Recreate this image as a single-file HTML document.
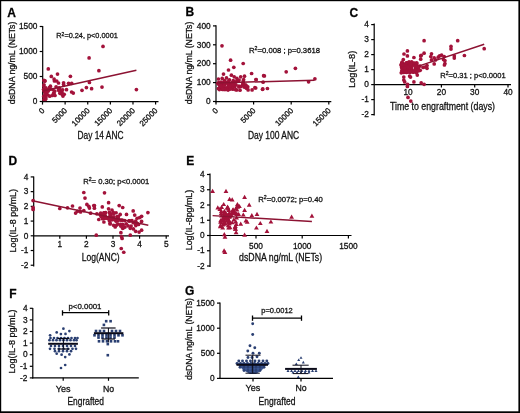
<!DOCTYPE html>
<html><head><meta charset="utf-8"><style>
html,body{margin:0;padding:0;background:#fff;}
body{width:520px;height:413px;overflow:hidden;}
svg{display:block;font-family:"Liberation Sans", sans-serif;will-change:transform;}
text{stroke:#111;stroke-width:0.28px;}
</style></head><body>
<svg width="520" height="413" viewBox="0 0 520 413">
<rect x="0" y="0" width="520" height="413" fill="#fff"/>
<text x="7.20" y="16.80" font-size="12" text-anchor="start" fill="#000" font-weight="bold">A</text>
<line x1="42.70" y1="26.00" x2="42.70" y2="102.20" stroke="#000" stroke-width="1.2"/>
<line x1="42.10" y1="101.60" x2="158.50" y2="101.60" stroke="#000" stroke-width="1.2"/>
<line x1="39.70" y1="101.50" x2="42.70" y2="101.50" stroke="#000" stroke-width="1.2"/>
<text x="37.40" y="104.20" font-size="8.3" text-anchor="end" fill="#111">0</text>
<line x1="39.70" y1="76.50" x2="42.70" y2="76.50" stroke="#000" stroke-width="1.2"/>
<text x="37.40" y="79.20" font-size="8.3" text-anchor="end" fill="#111">500</text>
<line x1="39.70" y1="51.50" x2="42.70" y2="51.50" stroke="#000" stroke-width="1.2"/>
<text x="37.40" y="54.20" font-size="8.3" text-anchor="end" fill="#111">1000</text>
<line x1="39.70" y1="26.50" x2="42.70" y2="26.50" stroke="#000" stroke-width="1.2"/>
<text x="37.40" y="29.20" font-size="8.3" text-anchor="end" fill="#111">1500</text>
<line x1="42.50" y1="101.60" x2="42.50" y2="104.60" stroke="#000" stroke-width="1.2"/>
<text x="45.10" y="111.10" font-size="7.9" text-anchor="end" fill="#111" transform="rotate(-45 45.10 111.10)">0</text>
<line x1="65.12" y1="101.60" x2="65.12" y2="104.60" stroke="#000" stroke-width="1.2"/>
<text x="67.72" y="111.10" font-size="7.9" text-anchor="end" fill="#111" transform="rotate(-45 67.72 111.10)">5000</text>
<line x1="87.74" y1="101.60" x2="87.74" y2="104.60" stroke="#000" stroke-width="1.2"/>
<text x="90.34" y="111.10" font-size="7.9" text-anchor="end" fill="#111" transform="rotate(-45 90.34 111.10)">10000</text>
<line x1="110.36" y1="101.60" x2="110.36" y2="104.60" stroke="#000" stroke-width="1.2"/>
<text x="112.96" y="111.10" font-size="7.9" text-anchor="end" fill="#111" transform="rotate(-45 112.96 111.10)">15000</text>
<line x1="132.98" y1="101.60" x2="132.98" y2="104.60" stroke="#000" stroke-width="1.2"/>
<text x="135.58" y="111.10" font-size="7.9" text-anchor="end" fill="#111" transform="rotate(-45 135.58 111.10)">20000</text>
<line x1="155.60" y1="101.60" x2="155.60" y2="104.60" stroke="#000" stroke-width="1.2"/>
<text x="158.20" y="111.10" font-size="7.9" text-anchor="end" fill="#111" transform="rotate(-45 158.20 111.10)">25000</text>
<text x="100.50" y="138.60" font-size="10.3" text-anchor="middle" fill="#111" textLength="46" lengthAdjust="spacingAndGlyphs">Day 14 ANC</text>
<text x="14.60" y="62.90" font-size="9.2" text-anchor="middle" fill="#111" textLength="82.5" lengthAdjust="spacingAndGlyphs" transform="rotate(-90 14.60 62.90)">dsDNA ng/mL (NETs)</text>
<text x="56.3" y="38.4" font-size="7.6" fill="#111" textLength="61.5" lengthAdjust="spacingAndGlyphs">R<tspan dy="-2.9" font-size="5.2">2</tspan><tspan dy="2.9">=0.24, p&lt;0.0001</tspan></text>
<circle cx="103.00" cy="46.40" r="1.85" fill="#a3123a"/>
<circle cx="89.10" cy="57.90" r="1.85" fill="#a3123a"/>
<circle cx="98.90" cy="70.70" r="1.85" fill="#a3123a"/>
<circle cx="102.00" cy="87.10" r="1.85" fill="#a3123a"/>
<circle cx="136.40" cy="89.60" r="1.85" fill="#a3123a"/>
<circle cx="48.30" cy="68.90" r="1.85" fill="#a3123a"/>
<circle cx="57.50" cy="74.10" r="1.85" fill="#a3123a"/>
<circle cx="51.30" cy="76.40" r="1.85" fill="#a3123a"/>
<circle cx="70.40" cy="76.30" r="1.85" fill="#a3123a"/>
<circle cx="54.10" cy="79.10" r="1.85" fill="#a3123a"/>
<circle cx="54.40" cy="81.00" r="1.85" fill="#a3123a"/>
<circle cx="56.70" cy="81.00" r="1.85" fill="#a3123a"/>
<circle cx="58.50" cy="83.00" r="1.85" fill="#a3123a"/>
<circle cx="63.60" cy="82.80" r="1.85" fill="#a3123a"/>
<circle cx="63.60" cy="84.50" r="1.85" fill="#a3123a"/>
<circle cx="68.60" cy="83.30" r="1.85" fill="#a3123a"/>
<circle cx="71.70" cy="83.30" r="1.85" fill="#a3123a"/>
<circle cx="50.40" cy="86.20" r="1.85" fill="#a3123a"/>
<circle cx="56.10" cy="86.80" r="1.85" fill="#a3123a"/>
<circle cx="89.40" cy="82.50" r="1.85" fill="#a3123a"/>
<circle cx="86.40" cy="87.60" r="1.85" fill="#a3123a"/>
<circle cx="91.60" cy="88.70" r="1.85" fill="#a3123a"/>
<circle cx="82.00" cy="90.30" r="1.85" fill="#a3123a"/>
<circle cx="71.60" cy="92.00" r="1.85" fill="#a3123a"/>
<circle cx="73.30" cy="93.10" r="1.85" fill="#a3123a"/>
<circle cx="66.50" cy="89.70" r="1.85" fill="#a3123a"/>
<circle cx="55.00" cy="95.50" r="1.85" fill="#a3123a"/>
<circle cx="61.90" cy="90.80" r="1.85" fill="#a3123a"/>
<circle cx="64.20" cy="94.30" r="1.85" fill="#a3123a"/>
<circle cx="44.00" cy="99.50" r="1.85" fill="#a3123a"/>
<circle cx="44.50" cy="91.20" r="1.85" fill="#a3123a"/>
<circle cx="45.45" cy="89.31" r="1.85" fill="#a3123a"/>
<circle cx="44.62" cy="91.75" r="1.85" fill="#a3123a"/>
<circle cx="43.97" cy="90.24" r="1.85" fill="#a3123a"/>
<circle cx="44.86" cy="95.86" r="1.85" fill="#a3123a"/>
<circle cx="43.79" cy="86.07" r="1.85" fill="#a3123a"/>
<circle cx="43.78" cy="96.19" r="1.85" fill="#a3123a"/>
<circle cx="44.99" cy="80.84" r="1.85" fill="#a3123a"/>
<circle cx="45.56" cy="99.30" r="1.85" fill="#a3123a"/>
<circle cx="44.91" cy="92.31" r="1.85" fill="#a3123a"/>
<circle cx="43.91" cy="80.30" r="1.85" fill="#a3123a"/>
<circle cx="44.66" cy="81.19" r="1.85" fill="#a3123a"/>
<circle cx="43.98" cy="84.84" r="1.85" fill="#a3123a"/>
<circle cx="43.66" cy="89.28" r="1.85" fill="#a3123a"/>
<circle cx="52.37" cy="95.51" r="1.85" fill="#a3123a"/>
<circle cx="53.86" cy="93.24" r="1.85" fill="#a3123a"/>
<circle cx="53.50" cy="93.51" r="1.85" fill="#a3123a"/>
<circle cx="52.69" cy="89.55" r="1.85" fill="#a3123a"/>
<circle cx="62.96" cy="96.06" r="1.85" fill="#a3123a"/>
<circle cx="59.96" cy="93.34" r="1.85" fill="#a3123a"/>
<circle cx="49.99" cy="89.31" r="1.85" fill="#a3123a"/>
<circle cx="49.49" cy="87.69" r="1.85" fill="#a3123a"/>
<circle cx="58.56" cy="90.25" r="1.85" fill="#a3123a"/>
<circle cx="60.09" cy="89.95" r="1.85" fill="#a3123a"/>
<circle cx="62.20" cy="94.58" r="1.85" fill="#a3123a"/>
<circle cx="44.01" cy="89.70" r="1.85" fill="#a3123a"/>
<circle cx="61.30" cy="90.71" r="1.85" fill="#a3123a"/>
<circle cx="62.63" cy="89.81" r="1.85" fill="#a3123a"/>
<circle cx="45.39" cy="93.97" r="1.85" fill="#a3123a"/>
<circle cx="58.79" cy="88.85" r="1.85" fill="#a3123a"/>
<circle cx="45.66" cy="90.83" r="1.85" fill="#a3123a"/>
<circle cx="62.32" cy="93.63" r="1.85" fill="#a3123a"/>
<circle cx="46.24" cy="89.86" r="1.85" fill="#a3123a"/>
<circle cx="45.92" cy="87.94" r="1.85" fill="#a3123a"/>
<circle cx="59.14" cy="87.85" r="1.85" fill="#a3123a"/>
<circle cx="54.63" cy="91.14" r="1.85" fill="#a3123a"/>
<circle cx="47.62" cy="94.82" r="1.85" fill="#a3123a"/>
<circle cx="46.49" cy="94.01" r="1.85" fill="#a3123a"/>
<circle cx="46.21" cy="91.70" r="1.85" fill="#a3123a"/>
<circle cx="48.04" cy="89.93" r="1.85" fill="#a3123a"/>
<circle cx="62.45" cy="94.09" r="1.85" fill="#a3123a"/>
<circle cx="49.78" cy="96.21" r="1.85" fill="#a3123a"/>
<circle cx="48.00" cy="91.24" r="1.85" fill="#a3123a"/>
<circle cx="60.23" cy="92.62" r="1.85" fill="#a3123a"/>
<circle cx="45.91" cy="97.70" r="1.85" fill="#a3123a"/>
<circle cx="48.05" cy="89.81" r="1.85" fill="#a3123a"/>
<circle cx="58.68" cy="89.49" r="1.85" fill="#a3123a"/>
<circle cx="49.63" cy="87.71" r="1.85" fill="#a3123a"/>
<line x1="42.70" y1="91.10" x2="136.40" y2="70.30" stroke="#8c1232" stroke-width="1.5"/>
<text x="185.60" y="16.40" font-size="12" text-anchor="start" fill="#000" font-weight="bold">B</text>
<line x1="216.00" y1="25.30" x2="216.00" y2="102.20" stroke="#000" stroke-width="1.2"/>
<line x1="215.40" y1="101.60" x2="331.30" y2="101.60" stroke="#000" stroke-width="1.2"/>
<line x1="213.00" y1="101.50" x2="216.00" y2="101.50" stroke="#000" stroke-width="1.2"/>
<text x="210.70" y="104.20" font-size="8.3" text-anchor="end" fill="#111">0</text>
<line x1="213.00" y1="82.60" x2="216.00" y2="82.60" stroke="#000" stroke-width="1.2"/>
<text x="210.70" y="85.30" font-size="8.3" text-anchor="end" fill="#111">100</text>
<line x1="213.00" y1="63.70" x2="216.00" y2="63.70" stroke="#000" stroke-width="1.2"/>
<text x="210.70" y="66.40" font-size="8.3" text-anchor="end" fill="#111">200</text>
<line x1="213.00" y1="44.80" x2="216.00" y2="44.80" stroke="#000" stroke-width="1.2"/>
<text x="210.70" y="47.50" font-size="8.3" text-anchor="end" fill="#111">300</text>
<line x1="213.00" y1="25.90" x2="216.00" y2="25.90" stroke="#000" stroke-width="1.2"/>
<text x="210.70" y="28.60" font-size="8.3" text-anchor="end" fill="#111">400</text>
<line x1="216.00" y1="101.60" x2="216.00" y2="104.60" stroke="#000" stroke-width="1.2"/>
<text x="218.60" y="111.10" font-size="7.9" text-anchor="end" fill="#111" transform="rotate(-45 218.60 111.10)">0</text>
<line x1="253.60" y1="101.60" x2="253.60" y2="104.60" stroke="#000" stroke-width="1.2"/>
<text x="256.20" y="111.10" font-size="7.9" text-anchor="end" fill="#111" transform="rotate(-45 256.20 111.10)">5000</text>
<line x1="291.20" y1="101.60" x2="291.20" y2="104.60" stroke="#000" stroke-width="1.2"/>
<text x="293.80" y="111.10" font-size="7.9" text-anchor="end" fill="#111" transform="rotate(-45 293.80 111.10)">10000</text>
<line x1="328.80" y1="101.60" x2="328.80" y2="104.60" stroke="#000" stroke-width="1.2"/>
<text x="331.40" y="111.10" font-size="7.9" text-anchor="end" fill="#111" transform="rotate(-45 331.40 111.10)">15000</text>
<text x="273.60" y="139.10" font-size="10.3" text-anchor="middle" fill="#111" textLength="51.3" lengthAdjust="spacingAndGlyphs">Day 100 ANC</text>
<text x="191.90" y="62.90" font-size="9.2" text-anchor="middle" fill="#111" textLength="82.5" lengthAdjust="spacingAndGlyphs" transform="rotate(-90 191.90 62.90)">dsDNA ng/mL (NETs)</text>
<text x="249" y="52.7" font-size="7.6" fill="#111" textLength="71" lengthAdjust="spacingAndGlyphs">R<tspan dy="-2.9" font-size="5.2">2</tspan><tspan dy="2.9">=0.008 ; p=0.3618</tspan></text>
<circle cx="222.00" cy="45.80" r="1.85" fill="#a3123a"/>
<circle cx="230.60" cy="60.20" r="1.85" fill="#a3123a"/>
<circle cx="243.20" cy="63.50" r="1.85" fill="#a3123a"/>
<circle cx="233.80" cy="67.30" r="1.85" fill="#a3123a"/>
<circle cx="228.50" cy="70.00" r="1.85" fill="#a3123a"/>
<circle cx="223.50" cy="74.10" r="1.85" fill="#a3123a"/>
<circle cx="251.60" cy="73.50" r="1.85" fill="#a3123a"/>
<circle cx="263.60" cy="75.70" r="1.85" fill="#a3123a"/>
<circle cx="231.40" cy="75.20" r="1.85" fill="#a3123a"/>
<circle cx="234.20" cy="76.80" r="1.85" fill="#a3123a"/>
<circle cx="226.50" cy="77.90" r="1.85" fill="#a3123a"/>
<circle cx="222.20" cy="78.40" r="1.85" fill="#a3123a"/>
<circle cx="218.40" cy="79.00" r="1.85" fill="#a3123a"/>
<circle cx="236.90" cy="78.40" r="1.85" fill="#a3123a"/>
<circle cx="240.70" cy="76.80" r="1.85" fill="#a3123a"/>
<circle cx="244.50" cy="76.20" r="1.85" fill="#a3123a"/>
<circle cx="256.00" cy="79.50" r="1.85" fill="#a3123a"/>
<circle cx="252.10" cy="89.90" r="1.85" fill="#a3123a"/>
<circle cx="254.90" cy="87.70" r="1.85" fill="#a3123a"/>
<circle cx="262.50" cy="89.30" r="1.85" fill="#a3123a"/>
<circle cx="295.40" cy="68.30" r="1.85" fill="#a3123a"/>
<circle cx="286.20" cy="71.80" r="1.85" fill="#a3123a"/>
<circle cx="264.40" cy="75.90" r="1.85" fill="#a3123a"/>
<circle cx="256.10" cy="79.50" r="1.85" fill="#a3123a"/>
<circle cx="263.10" cy="82.20" r="1.85" fill="#a3123a"/>
<circle cx="255.70" cy="88.00" r="1.85" fill="#a3123a"/>
<circle cx="262.80" cy="88.90" r="1.85" fill="#a3123a"/>
<circle cx="267.40" cy="88.50" r="1.85" fill="#a3123a"/>
<circle cx="308.60" cy="81.80" r="1.85" fill="#a3123a"/>
<circle cx="314.90" cy="78.80" r="1.85" fill="#a3123a"/>
<circle cx="232.21" cy="86.73" r="1.85" fill="#a3123a"/>
<circle cx="238.16" cy="81.07" r="1.85" fill="#a3123a"/>
<circle cx="217.84" cy="83.62" r="1.85" fill="#a3123a"/>
<circle cx="226.00" cy="88.41" r="1.85" fill="#a3123a"/>
<circle cx="238.91" cy="86.12" r="1.85" fill="#a3123a"/>
<circle cx="234.80" cy="86.77" r="1.85" fill="#a3123a"/>
<circle cx="222.00" cy="84.34" r="1.85" fill="#a3123a"/>
<circle cx="222.53" cy="89.47" r="1.85" fill="#a3123a"/>
<circle cx="219.32" cy="88.51" r="1.85" fill="#a3123a"/>
<circle cx="219.81" cy="87.06" r="1.85" fill="#a3123a"/>
<circle cx="227.95" cy="83.95" r="1.85" fill="#a3123a"/>
<circle cx="243.61" cy="79.70" r="1.85" fill="#a3123a"/>
<circle cx="219.38" cy="89.57" r="1.85" fill="#a3123a"/>
<circle cx="233.28" cy="80.50" r="1.85" fill="#a3123a"/>
<circle cx="248.10" cy="89.91" r="1.85" fill="#a3123a"/>
<circle cx="220.99" cy="84.16" r="1.85" fill="#a3123a"/>
<circle cx="221.69" cy="82.94" r="1.85" fill="#a3123a"/>
<circle cx="236.77" cy="81.30" r="1.85" fill="#a3123a"/>
<circle cx="239.10" cy="80.06" r="1.85" fill="#a3123a"/>
<circle cx="222.81" cy="88.47" r="1.85" fill="#a3123a"/>
<circle cx="229.92" cy="84.11" r="1.85" fill="#a3123a"/>
<circle cx="235.98" cy="84.74" r="1.85" fill="#a3123a"/>
<circle cx="229.42" cy="79.84" r="1.85" fill="#a3123a"/>
<circle cx="240.02" cy="90.14" r="1.85" fill="#a3123a"/>
<circle cx="247.77" cy="86.80" r="1.85" fill="#a3123a"/>
<circle cx="228.55" cy="83.49" r="1.85" fill="#a3123a"/>
<circle cx="238.89" cy="86.91" r="1.85" fill="#a3123a"/>
<circle cx="221.03" cy="82.08" r="1.85" fill="#a3123a"/>
<circle cx="228.76" cy="85.12" r="1.85" fill="#a3123a"/>
<circle cx="242.61" cy="85.00" r="1.85" fill="#a3123a"/>
<circle cx="218.37" cy="88.55" r="1.85" fill="#a3123a"/>
<circle cx="230.83" cy="85.21" r="1.85" fill="#a3123a"/>
<circle cx="224.39" cy="84.20" r="1.85" fill="#a3123a"/>
<circle cx="229.54" cy="87.99" r="1.85" fill="#a3123a"/>
<circle cx="220.68" cy="85.55" r="1.85" fill="#a3123a"/>
<circle cx="223.02" cy="87.15" r="1.85" fill="#a3123a"/>
<circle cx="218.64" cy="82.54" r="1.85" fill="#a3123a"/>
<circle cx="228.17" cy="86.51" r="1.85" fill="#a3123a"/>
<circle cx="219.11" cy="84.55" r="1.85" fill="#a3123a"/>
<circle cx="223.97" cy="82.60" r="1.85" fill="#a3123a"/>
<circle cx="228.36" cy="89.61" r="1.85" fill="#a3123a"/>
<circle cx="228.44" cy="89.58" r="1.85" fill="#a3123a"/>
<circle cx="223.26" cy="89.28" r="1.85" fill="#a3123a"/>
<circle cx="226.51" cy="82.30" r="1.85" fill="#a3123a"/>
<circle cx="232.85" cy="89.16" r="1.85" fill="#a3123a"/>
<circle cx="220.61" cy="83.05" r="1.85" fill="#a3123a"/>
<circle cx="233.22" cy="83.75" r="1.85" fill="#a3123a"/>
<circle cx="224.49" cy="80.58" r="1.85" fill="#a3123a"/>
<circle cx="221.16" cy="86.38" r="1.85" fill="#a3123a"/>
<circle cx="236.73" cy="89.99" r="1.85" fill="#a3123a"/>
<circle cx="228.81" cy="80.73" r="1.85" fill="#a3123a"/>
<circle cx="225.82" cy="87.98" r="1.85" fill="#a3123a"/>
<circle cx="234.23" cy="86.57" r="1.85" fill="#a3123a"/>
<circle cx="224.29" cy="85.51" r="1.85" fill="#a3123a"/>
<circle cx="228.38" cy="86.46" r="1.85" fill="#a3123a"/>
<circle cx="224.83" cy="89.49" r="1.85" fill="#a3123a"/>
<circle cx="235.26" cy="82.04" r="1.85" fill="#a3123a"/>
<circle cx="225.31" cy="88.80" r="1.85" fill="#a3123a"/>
<circle cx="225.09" cy="89.47" r="1.85" fill="#a3123a"/>
<circle cx="229.00" cy="87.11" r="1.85" fill="#a3123a"/>
<circle cx="232.13" cy="82.53" r="1.85" fill="#a3123a"/>
<circle cx="225.20" cy="82.92" r="1.85" fill="#a3123a"/>
<circle cx="231.77" cy="87.09" r="1.85" fill="#a3123a"/>
<circle cx="222.67" cy="88.92" r="1.85" fill="#a3123a"/>
<circle cx="227.44" cy="82.79" r="1.85" fill="#a3123a"/>
<circle cx="227.68" cy="89.81" r="1.85" fill="#a3123a"/>
<circle cx="229.74" cy="86.44" r="1.85" fill="#a3123a"/>
<circle cx="235.68" cy="89.64" r="1.85" fill="#a3123a"/>
<circle cx="233.05" cy="84.47" r="1.85" fill="#a3123a"/>
<circle cx="230.21" cy="89.06" r="1.85" fill="#a3123a"/>
<circle cx="245.74" cy="85.22" r="1.85" fill="#a3123a"/>
<circle cx="243.08" cy="83.32" r="1.85" fill="#a3123a"/>
<circle cx="245.42" cy="85.07" r="1.85" fill="#a3123a"/>
<circle cx="241.10" cy="86.39" r="1.85" fill="#a3123a"/>
<circle cx="246.42" cy="87.18" r="1.85" fill="#a3123a"/>
<circle cx="246.38" cy="88.19" r="1.85" fill="#a3123a"/>
<circle cx="244.21" cy="87.10" r="1.85" fill="#a3123a"/>
<circle cx="243.28" cy="80.88" r="1.85" fill="#a3123a"/>
<circle cx="243.12" cy="82.81" r="1.85" fill="#a3123a"/>
<circle cx="246.60" cy="86.20" r="1.85" fill="#a3123a"/>
<line x1="216.00" y1="83.00" x2="314.50" y2="80.20" stroke="#8c1232" stroke-width="1.5"/>
<text x="349.40" y="16.80" font-size="12" text-anchor="start" fill="#000" font-weight="bold">C</text>
<line x1="374.20" y1="23.50" x2="374.20" y2="115.50" stroke="#000" stroke-width="1.2"/>
<line x1="374.20" y1="84.60" x2="511.00" y2="84.60" stroke="#000" stroke-width="1.2"/>
<line x1="371.20" y1="24.60" x2="374.20" y2="24.60" stroke="#000" stroke-width="1.2"/>
<text x="368.90" y="27.30" font-size="8.3" text-anchor="end" fill="#111">4</text>
<line x1="371.20" y1="39.60" x2="374.20" y2="39.60" stroke="#000" stroke-width="1.2"/>
<text x="368.90" y="42.30" font-size="8.3" text-anchor="end" fill="#111">3</text>
<line x1="371.20" y1="54.60" x2="374.20" y2="54.60" stroke="#000" stroke-width="1.2"/>
<text x="368.90" y="57.30" font-size="8.3" text-anchor="end" fill="#111">2</text>
<line x1="371.20" y1="69.60" x2="374.20" y2="69.60" stroke="#000" stroke-width="1.2"/>
<text x="368.90" y="72.30" font-size="8.3" text-anchor="end" fill="#111">1</text>
<line x1="371.20" y1="84.60" x2="374.20" y2="84.60" stroke="#000" stroke-width="1.2"/>
<text x="368.90" y="87.30" font-size="8.3" text-anchor="end" fill="#111">0</text>
<line x1="371.20" y1="99.60" x2="374.20" y2="99.60" stroke="#000" stroke-width="1.2"/>
<text x="368.90" y="102.30" font-size="8.3" text-anchor="end" fill="#111">-1</text>
<line x1="371.20" y1="114.60" x2="374.20" y2="114.60" stroke="#000" stroke-width="1.2"/>
<text x="368.90" y="117.30" font-size="8.3" text-anchor="end" fill="#111">-2</text>
<line x1="408.10" y1="84.60" x2="408.10" y2="87.60" stroke="#000" stroke-width="1.2"/>
<text x="408.10" y="95.20" font-size="8.3" text-anchor="middle" fill="#111">10</text>
<line x1="441.40" y1="84.60" x2="441.40" y2="87.60" stroke="#000" stroke-width="1.2"/>
<text x="441.40" y="95.20" font-size="8.3" text-anchor="middle" fill="#111">20</text>
<line x1="474.70" y1="84.60" x2="474.70" y2="87.60" stroke="#000" stroke-width="1.2"/>
<text x="474.70" y="95.20" font-size="8.3" text-anchor="middle" fill="#111">30</text>
<line x1="508.00" y1="84.60" x2="508.00" y2="87.60" stroke="#000" stroke-width="1.2"/>
<text x="508.00" y="95.20" font-size="8.3" text-anchor="middle" fill="#111">40</text>
<text x="442.50" y="109.80" font-size="10.3" text-anchor="middle" fill="#111" textLength="105" lengthAdjust="spacingAndGlyphs">Time to engraftment (days)</text>
<text x="355.30" y="69.30" font-size="9.2" text-anchor="middle" fill="#111" textLength="37" lengthAdjust="spacingAndGlyphs" transform="rotate(-90 355.30 69.30)">Log(IL-8)</text>
<text x="440.2" y="77.8" font-size="7.6" fill="#111" textLength="65.5" lengthAdjust="spacingAndGlyphs">R<tspan dy="-2.9" font-size="5.2">2</tspan><tspan dy="2.9">=0.31 ; p&lt;0.0001</tspan></text>
<circle cx="424.10" cy="40.70" r="1.85" fill="#a3123a"/>
<circle cx="457.70" cy="40.70" r="1.85" fill="#a3123a"/>
<circle cx="451.00" cy="46.40" r="1.85" fill="#a3123a"/>
<circle cx="451.00" cy="49.10" r="1.85" fill="#a3123a"/>
<circle cx="484.20" cy="48.70" r="1.85" fill="#a3123a"/>
<circle cx="464.40" cy="55.50" r="1.85" fill="#a3123a"/>
<circle cx="454.30" cy="55.90" r="1.85" fill="#a3123a"/>
<circle cx="454.30" cy="58.10" r="1.85" fill="#a3123a"/>
<circle cx="444.20" cy="56.50" r="1.85" fill="#a3123a"/>
<circle cx="444.90" cy="60.60" r="1.85" fill="#a3123a"/>
<circle cx="444.90" cy="63.50" r="1.85" fill="#a3123a"/>
<circle cx="441.60" cy="55.20" r="1.85" fill="#a3123a"/>
<circle cx="438.20" cy="57.20" r="1.85" fill="#a3123a"/>
<circle cx="435.50" cy="59.90" r="1.85" fill="#a3123a"/>
<circle cx="431.50" cy="53.80" r="1.85" fill="#a3123a"/>
<circle cx="430.80" cy="56.50" r="1.85" fill="#a3123a"/>
<circle cx="434.20" cy="57.90" r="1.85" fill="#a3123a"/>
<circle cx="431.50" cy="59.90" r="1.85" fill="#a3123a"/>
<circle cx="434.20" cy="63.90" r="1.85" fill="#a3123a"/>
<circle cx="424.10" cy="53.20" r="1.85" fill="#a3123a"/>
<circle cx="420.70" cy="55.90" r="1.85" fill="#a3123a"/>
<circle cx="420.70" cy="59.20" r="1.85" fill="#a3123a"/>
<circle cx="407.40" cy="50.90" r="1.85" fill="#a3123a"/>
<circle cx="404.00" cy="54.00" r="1.85" fill="#a3123a"/>
<circle cx="407.40" cy="55.90" r="1.85" fill="#a3123a"/>
<circle cx="413.90" cy="57.50" r="1.85" fill="#a3123a"/>
<circle cx="421.20" cy="55.30" r="1.85" fill="#a3123a"/>
<circle cx="403.30" cy="59.60" r="1.85" fill="#a3123a"/>
<circle cx="439.60" cy="55.80" r="1.85" fill="#a3123a"/>
<circle cx="443.50" cy="59.60" r="1.85" fill="#a3123a"/>
<circle cx="444.40" cy="65.00" r="1.85" fill="#a3123a"/>
<circle cx="427.00" cy="68.30" r="1.85" fill="#a3123a"/>
<circle cx="423.10" cy="67.40" r="1.85" fill="#a3123a"/>
<circle cx="420.20" cy="70.30" r="1.85" fill="#a3123a"/>
<circle cx="417.30" cy="75.10" r="1.85" fill="#a3123a"/>
<circle cx="409.60" cy="76.10" r="1.85" fill="#a3123a"/>
<circle cx="410.50" cy="77.10" r="1.85" fill="#a3123a"/>
<circle cx="403.80" cy="77.10" r="1.85" fill="#a3123a"/>
<circle cx="403.80" cy="80.00" r="1.85" fill="#a3123a"/>
<circle cx="404.70" cy="81.90" r="1.85" fill="#a3123a"/>
<circle cx="407.60" cy="84.30" r="1.85" fill="#a3123a"/>
<circle cx="413.90" cy="81.90" r="1.85" fill="#a3123a"/>
<circle cx="421.20" cy="82.90" r="1.85" fill="#a3123a"/>
<circle cx="424.10" cy="84.30" r="1.85" fill="#a3123a"/>
<circle cx="408.00" cy="97.40" r="1.85" fill="#a3123a"/>
<circle cx="410.80" cy="101.10" r="1.85" fill="#a3123a"/>
<circle cx="407.40" cy="86.40" r="1.85" fill="#a3123a"/>
<circle cx="420.00" cy="66.00" r="1.85" fill="#a3123a"/>
<circle cx="425.00" cy="67.00" r="1.85" fill="#a3123a"/>
<circle cx="427.00" cy="65.50" r="1.85" fill="#a3123a"/>
<circle cx="405.73" cy="69.34" r="1.85" fill="#a3123a"/>
<circle cx="413.17" cy="71.14" r="1.85" fill="#a3123a"/>
<circle cx="404.45" cy="64.34" r="1.85" fill="#a3123a"/>
<circle cx="403.78" cy="64.28" r="1.85" fill="#a3123a"/>
<circle cx="414.05" cy="63.23" r="1.85" fill="#a3123a"/>
<circle cx="410.50" cy="64.15" r="1.85" fill="#a3123a"/>
<circle cx="406.36" cy="66.55" r="1.85" fill="#a3123a"/>
<circle cx="415.86" cy="68.49" r="1.85" fill="#a3123a"/>
<circle cx="401.45" cy="64.83" r="1.85" fill="#a3123a"/>
<circle cx="403.77" cy="71.38" r="1.85" fill="#a3123a"/>
<circle cx="415.37" cy="70.67" r="1.85" fill="#a3123a"/>
<circle cx="415.66" cy="69.99" r="1.85" fill="#a3123a"/>
<circle cx="417.81" cy="70.53" r="1.85" fill="#a3123a"/>
<circle cx="405.69" cy="71.15" r="1.85" fill="#a3123a"/>
<circle cx="409.72" cy="70.11" r="1.85" fill="#a3123a"/>
<circle cx="411.07" cy="66.53" r="1.85" fill="#a3123a"/>
<circle cx="407.57" cy="66.53" r="1.85" fill="#a3123a"/>
<circle cx="406.69" cy="63.09" r="1.85" fill="#a3123a"/>
<circle cx="415.54" cy="70.58" r="1.85" fill="#a3123a"/>
<circle cx="418.45" cy="69.40" r="1.85" fill="#a3123a"/>
<circle cx="410.90" cy="70.03" r="1.85" fill="#a3123a"/>
<circle cx="403.56" cy="69.25" r="1.85" fill="#a3123a"/>
<circle cx="408.96" cy="63.74" r="1.85" fill="#a3123a"/>
<circle cx="404.75" cy="67.55" r="1.85" fill="#a3123a"/>
<circle cx="405.63" cy="66.85" r="1.85" fill="#a3123a"/>
<circle cx="411.80" cy="66.15" r="1.85" fill="#a3123a"/>
<circle cx="403.49" cy="67.20" r="1.85" fill="#a3123a"/>
<circle cx="405.32" cy="64.39" r="1.85" fill="#a3123a"/>
<circle cx="404.60" cy="65.83" r="1.85" fill="#a3123a"/>
<circle cx="402.48" cy="68.96" r="1.85" fill="#a3123a"/>
<circle cx="417.89" cy="66.09" r="1.85" fill="#a3123a"/>
<circle cx="413.78" cy="72.06" r="1.85" fill="#a3123a"/>
<circle cx="401.96" cy="63.36" r="1.85" fill="#a3123a"/>
<circle cx="415.31" cy="71.02" r="1.85" fill="#a3123a"/>
<circle cx="412.38" cy="63.56" r="1.85" fill="#a3123a"/>
<circle cx="408.44" cy="71.35" r="1.85" fill="#a3123a"/>
<circle cx="416.71" cy="70.63" r="1.85" fill="#a3123a"/>
<circle cx="404.75" cy="71.19" r="1.85" fill="#a3123a"/>
<circle cx="407.76" cy="69.68" r="1.85" fill="#a3123a"/>
<circle cx="403.60" cy="72.48" r="1.85" fill="#a3123a"/>
<circle cx="411.76" cy="69.75" r="1.85" fill="#a3123a"/>
<circle cx="404.91" cy="68.59" r="1.85" fill="#a3123a"/>
<circle cx="411.37" cy="68.30" r="1.85" fill="#a3123a"/>
<circle cx="407.49" cy="69.80" r="1.85" fill="#a3123a"/>
<circle cx="407.17" cy="65.05" r="1.85" fill="#a3123a"/>
<circle cx="404.08" cy="69.32" r="1.85" fill="#a3123a"/>
<circle cx="403.16" cy="64.28" r="1.85" fill="#a3123a"/>
<circle cx="402.41" cy="68.88" r="1.85" fill="#a3123a"/>
<circle cx="410.93" cy="67.78" r="1.85" fill="#a3123a"/>
<circle cx="401.88" cy="66.64" r="1.85" fill="#a3123a"/>
<circle cx="407.20" cy="62.82" r="1.85" fill="#a3123a"/>
<circle cx="401.25" cy="72.78" r="1.85" fill="#a3123a"/>
<circle cx="403.33" cy="65.12" r="1.85" fill="#a3123a"/>
<circle cx="405.91" cy="68.37" r="1.85" fill="#a3123a"/>
<circle cx="402.55" cy="66.97" r="1.85" fill="#a3123a"/>
<circle cx="407.62" cy="70.98" r="1.85" fill="#a3123a"/>
<circle cx="401.30" cy="65.48" r="1.85" fill="#a3123a"/>
<circle cx="409.89" cy="72.47" r="1.85" fill="#a3123a"/>
<circle cx="410.24" cy="67.02" r="1.85" fill="#a3123a"/>
<circle cx="412.92" cy="65.06" r="1.85" fill="#a3123a"/>
<circle cx="401.76" cy="67.32" r="1.85" fill="#a3123a"/>
<circle cx="417.13" cy="69.92" r="1.85" fill="#a3123a"/>
<circle cx="405.72" cy="69.32" r="1.85" fill="#a3123a"/>
<circle cx="416.06" cy="64.64" r="1.85" fill="#a3123a"/>
<circle cx="411.49" cy="65.71" r="1.85" fill="#a3123a"/>
<circle cx="405.47" cy="64.96" r="1.85" fill="#a3123a"/>
<circle cx="404.77" cy="65.66" r="1.85" fill="#a3123a"/>
<circle cx="401.87" cy="66.17" r="1.85" fill="#a3123a"/>
<circle cx="402.72" cy="70.14" r="1.85" fill="#a3123a"/>
<circle cx="411.70" cy="61.85" r="1.85" fill="#a3123a"/>
<circle cx="414.74" cy="63.89" r="1.85" fill="#a3123a"/>
<circle cx="409.61" cy="67.90" r="1.85" fill="#a3123a"/>
<circle cx="407.03" cy="64.98" r="1.85" fill="#a3123a"/>
<circle cx="408.81" cy="63.31" r="1.85" fill="#a3123a"/>
<circle cx="416.31" cy="63.03" r="1.85" fill="#a3123a"/>
<circle cx="415.61" cy="64.20" r="1.85" fill="#a3123a"/>
<circle cx="406.51" cy="66.07" r="1.85" fill="#a3123a"/>
<circle cx="401.78" cy="63.21" r="1.85" fill="#a3123a"/>
<circle cx="407.52" cy="66.66" r="1.85" fill="#a3123a"/>
<circle cx="416.54" cy="72.69" r="1.85" fill="#a3123a"/>
<circle cx="401.96" cy="67.69" r="1.85" fill="#a3123a"/>
<circle cx="403.46" cy="70.64" r="1.85" fill="#a3123a"/>
<circle cx="406.85" cy="71.62" r="1.85" fill="#a3123a"/>
<circle cx="410.74" cy="63.18" r="1.85" fill="#a3123a"/>
<circle cx="401.29" cy="64.53" r="1.85" fill="#a3123a"/>
<circle cx="416.39" cy="63.45" r="1.85" fill="#a3123a"/>
<circle cx="409.58" cy="65.89" r="1.85" fill="#a3123a"/>
<circle cx="407.24" cy="70.62" r="1.85" fill="#a3123a"/>
<circle cx="404.94" cy="69.70" r="1.85" fill="#a3123a"/>
<circle cx="412.87" cy="72.09" r="1.85" fill="#a3123a"/>
<circle cx="410.30" cy="71.92" r="1.85" fill="#a3123a"/>
<circle cx="408.91" cy="68.11" r="1.85" fill="#a3123a"/>
<circle cx="412.06" cy="71.04" r="1.85" fill="#a3123a"/>
<circle cx="416.91" cy="63.07" r="1.85" fill="#a3123a"/>
<circle cx="403.60" cy="67.67" r="1.85" fill="#a3123a"/>
<circle cx="415.42" cy="67.67" r="1.85" fill="#a3123a"/>
<circle cx="406.44" cy="72.38" r="1.85" fill="#a3123a"/>
<circle cx="406.41" cy="62.76" r="1.85" fill="#a3123a"/>
<circle cx="402.11" cy="62.13" r="1.85" fill="#a3123a"/>
<circle cx="413.92" cy="62.98" r="1.85" fill="#a3123a"/>
<circle cx="413.73" cy="71.33" r="1.85" fill="#a3123a"/>
<circle cx="418.69" cy="70.70" r="1.85" fill="#a3123a"/>
<circle cx="408.63" cy="68.64" r="1.85" fill="#a3123a"/>
<circle cx="415.78" cy="69.68" r="1.85" fill="#a3123a"/>
<circle cx="406.28" cy="70.18" r="1.85" fill="#a3123a"/>
<circle cx="403.11" cy="65.19" r="1.85" fill="#a3123a"/>
<circle cx="418.63" cy="66.98" r="1.85" fill="#a3123a"/>
<circle cx="405.89" cy="70.43" r="1.85" fill="#a3123a"/>
<circle cx="409.08" cy="61.84" r="1.85" fill="#a3123a"/>
<circle cx="401.71" cy="64.65" r="1.85" fill="#a3123a"/>
<circle cx="407.01" cy="72.11" r="1.85" fill="#a3123a"/>
<circle cx="405.53" cy="71.15" r="1.85" fill="#a3123a"/>
<circle cx="416.14" cy="66.38" r="1.85" fill="#a3123a"/>
<circle cx="418.58" cy="70.18" r="1.85" fill="#a3123a"/>
<circle cx="409.67" cy="64.68" r="1.85" fill="#a3123a"/>
<circle cx="409.27" cy="71.72" r="1.85" fill="#a3123a"/>
<circle cx="410.59" cy="63.93" r="1.85" fill="#a3123a"/>
<circle cx="407.77" cy="67.04" r="1.85" fill="#a3123a"/>
<circle cx="404.54" cy="68.10" r="1.85" fill="#a3123a"/>
<circle cx="401.80" cy="70.83" r="1.85" fill="#a3123a"/>
<line x1="419.30" y1="65.90" x2="484.20" y2="44.20" stroke="#8c1232" stroke-width="1.5"/>
<text x="8.40" y="164.50" font-size="12" text-anchor="start" fill="#000" font-weight="bold">D</text>
<line x1="33.70" y1="176.40" x2="33.70" y2="266.50" stroke="#000" stroke-width="1.2"/>
<line x1="33.70" y1="235.80" x2="169.00" y2="235.80" stroke="#000" stroke-width="1.2"/>
<line x1="30.70" y1="176.92" x2="33.70" y2="176.92" stroke="#000" stroke-width="1.2"/>
<text x="28.40" y="179.62" font-size="8.3" text-anchor="end" fill="#111">4</text>
<line x1="30.70" y1="191.64" x2="33.70" y2="191.64" stroke="#000" stroke-width="1.2"/>
<text x="28.40" y="194.34" font-size="8.3" text-anchor="end" fill="#111">3</text>
<line x1="30.70" y1="206.36" x2="33.70" y2="206.36" stroke="#000" stroke-width="1.2"/>
<text x="28.40" y="209.06" font-size="8.3" text-anchor="end" fill="#111">2</text>
<line x1="30.70" y1="221.08" x2="33.70" y2="221.08" stroke="#000" stroke-width="1.2"/>
<text x="28.40" y="223.78" font-size="8.3" text-anchor="end" fill="#111">1</text>
<line x1="30.70" y1="235.80" x2="33.70" y2="235.80" stroke="#000" stroke-width="1.2"/>
<text x="28.40" y="238.50" font-size="8.3" text-anchor="end" fill="#111">0</text>
<line x1="30.70" y1="250.52" x2="33.70" y2="250.52" stroke="#000" stroke-width="1.2"/>
<text x="28.40" y="253.22" font-size="8.3" text-anchor="end" fill="#111">-1</text>
<line x1="30.70" y1="265.24" x2="33.70" y2="265.24" stroke="#000" stroke-width="1.2"/>
<text x="28.40" y="267.94" font-size="8.3" text-anchor="end" fill="#111">-2</text>
<line x1="59.80" y1="235.80" x2="59.80" y2="238.80" stroke="#000" stroke-width="1.2"/>
<text x="59.80" y="247.40" font-size="8.3" text-anchor="middle" fill="#111">1</text>
<line x1="86.40" y1="235.80" x2="86.40" y2="238.80" stroke="#000" stroke-width="1.2"/>
<text x="86.40" y="247.40" font-size="8.3" text-anchor="middle" fill="#111">2</text>
<line x1="113.00" y1="235.80" x2="113.00" y2="238.80" stroke="#000" stroke-width="1.2"/>
<text x="113.00" y="247.40" font-size="8.3" text-anchor="middle" fill="#111">3</text>
<line x1="139.60" y1="235.80" x2="139.60" y2="238.80" stroke="#000" stroke-width="1.2"/>
<text x="139.60" y="247.40" font-size="8.3" text-anchor="middle" fill="#111">4</text>
<line x1="166.20" y1="235.80" x2="166.20" y2="238.80" stroke="#000" stroke-width="1.2"/>
<text x="166.20" y="247.40" font-size="8.3" text-anchor="middle" fill="#111">5</text>
<text x="100.70" y="261.10" font-size="10.3" text-anchor="middle" fill="#111" textLength="38" lengthAdjust="spacingAndGlyphs">Log(ANC)</text>
<text x="15.80" y="220.70" font-size="9" text-anchor="middle" fill="#111" textLength="63.5" lengthAdjust="spacingAndGlyphs" transform="rotate(-90 15.80 220.70)">Log(IL-8 pg/mL)</text>
<text x="83.2" y="184.1" font-size="7.6" fill="#111" textLength="66" lengthAdjust="spacingAndGlyphs">R<tspan dy="-2.9" font-size="5.2">2</tspan><tspan dy="2.9">= 0.30; p&lt;0.0001</tspan></text>
<circle cx="33.10" cy="200.60" r="1.85" fill="#a3123a"/>
<circle cx="33.10" cy="207.50" r="1.85" fill="#a3123a"/>
<circle cx="33.10" cy="209.40" r="1.85" fill="#a3123a"/>
<circle cx="59.80" cy="208.50" r="1.85" fill="#a3123a"/>
<circle cx="67.50" cy="207.80" r="1.85" fill="#a3123a"/>
<circle cx="72.50" cy="206.00" r="1.85" fill="#a3123a"/>
<circle cx="83.80" cy="192.50" r="1.85" fill="#a3123a"/>
<circle cx="85.00" cy="198.10" r="1.85" fill="#a3123a"/>
<circle cx="86.90" cy="204.40" r="1.85" fill="#a3123a"/>
<circle cx="88.80" cy="206.30" r="1.85" fill="#a3123a"/>
<circle cx="89.40" cy="208.10" r="1.85" fill="#a3123a"/>
<circle cx="75.60" cy="213.10" r="1.85" fill="#a3123a"/>
<circle cx="77.50" cy="211.30" r="1.85" fill="#a3123a"/>
<circle cx="80.00" cy="208.10" r="1.85" fill="#a3123a"/>
<circle cx="80.60" cy="211.90" r="1.85" fill="#a3123a"/>
<circle cx="83.80" cy="210.60" r="1.85" fill="#a3123a"/>
<circle cx="93.80" cy="205.60" r="1.85" fill="#a3123a"/>
<circle cx="104.50" cy="192.80" r="1.85" fill="#a3123a"/>
<circle cx="108.60" cy="202.70" r="1.85" fill="#a3123a"/>
<circle cx="94.40" cy="205.60" r="1.85" fill="#a3123a"/>
<circle cx="94.40" cy="208.20" r="1.85" fill="#a3123a"/>
<circle cx="102.30" cy="206.90" r="1.85" fill="#a3123a"/>
<circle cx="119.20" cy="205.60" r="1.85" fill="#a3123a"/>
<circle cx="122.70" cy="207.50" r="1.85" fill="#a3123a"/>
<circle cx="108.60" cy="208.80" r="1.85" fill="#a3123a"/>
<circle cx="112.00" cy="210.00" r="1.85" fill="#a3123a"/>
<circle cx="133.20" cy="210.90" r="1.85" fill="#a3123a"/>
<circle cx="147.90" cy="212.60" r="1.85" fill="#a3123a"/>
<circle cx="134.70" cy="215.10" r="1.85" fill="#a3123a"/>
<circle cx="90.60" cy="213.20" r="1.85" fill="#a3123a"/>
<circle cx="96.90" cy="213.80" r="1.85" fill="#a3123a"/>
<circle cx="100.10" cy="214.40" r="1.85" fill="#a3123a"/>
<circle cx="105.10" cy="213.20" r="1.85" fill="#a3123a"/>
<circle cx="120.20" cy="214.40" r="1.85" fill="#a3123a"/>
<circle cx="126.50" cy="214.40" r="1.85" fill="#a3123a"/>
<circle cx="141.60" cy="216.30" r="1.85" fill="#a3123a"/>
<circle cx="139.70" cy="217.60" r="1.85" fill="#a3123a"/>
<circle cx="98.80" cy="219.50" r="1.85" fill="#a3123a"/>
<circle cx="103.90" cy="222.00" r="1.85" fill="#a3123a"/>
<circle cx="110.20" cy="223.30" r="1.85" fill="#a3123a"/>
<circle cx="115.20" cy="227.00" r="1.85" fill="#a3123a"/>
<circle cx="122.70" cy="228.30" r="1.85" fill="#a3123a"/>
<circle cx="130.30" cy="228.30" r="1.85" fill="#a3123a"/>
<circle cx="133.40" cy="228.90" r="1.85" fill="#a3123a"/>
<circle cx="138.50" cy="224.50" r="1.85" fill="#a3123a"/>
<circle cx="141.60" cy="221.40" r="1.85" fill="#a3123a"/>
<circle cx="139.10" cy="232.10" r="1.85" fill="#a3123a"/>
<circle cx="141.60" cy="230.20" r="1.85" fill="#a3123a"/>
<circle cx="120.90" cy="232.70" r="1.85" fill="#a3123a"/>
<circle cx="121.50" cy="236.50" r="1.85" fill="#a3123a"/>
<circle cx="122.10" cy="238.40" r="1.85" fill="#a3123a"/>
<circle cx="130.30" cy="235.20" r="1.85" fill="#a3123a"/>
<circle cx="96.30" cy="235.20" r="1.85" fill="#a3123a"/>
<circle cx="121.25" cy="248.50" r="1.85" fill="#a3123a"/>
<circle cx="123.75" cy="252.25" r="1.85" fill="#a3123a"/>
<circle cx="104.06" cy="214.90" r="1.85" fill="#a3123a"/>
<circle cx="135.73" cy="221.18" r="1.85" fill="#a3123a"/>
<circle cx="110.30" cy="217.81" r="1.85" fill="#a3123a"/>
<circle cx="125.02" cy="227.12" r="1.85" fill="#a3123a"/>
<circle cx="111.51" cy="217.12" r="1.85" fill="#a3123a"/>
<circle cx="129.55" cy="220.79" r="1.85" fill="#a3123a"/>
<circle cx="104.50" cy="217.38" r="1.85" fill="#a3123a"/>
<circle cx="113.61" cy="225.31" r="1.85" fill="#a3123a"/>
<circle cx="109.90" cy="219.28" r="1.85" fill="#a3123a"/>
<circle cx="105.69" cy="212.65" r="1.85" fill="#a3123a"/>
<circle cx="120.95" cy="220.14" r="1.85" fill="#a3123a"/>
<circle cx="124.76" cy="220.62" r="1.85" fill="#a3123a"/>
<circle cx="104.68" cy="215.70" r="1.85" fill="#a3123a"/>
<circle cx="107.77" cy="218.32" r="1.85" fill="#a3123a"/>
<circle cx="137.16" cy="218.23" r="1.85" fill="#a3123a"/>
<circle cx="116.67" cy="225.03" r="1.85" fill="#a3123a"/>
<circle cx="123.09" cy="224.87" r="1.85" fill="#a3123a"/>
<circle cx="104.24" cy="212.95" r="1.85" fill="#a3123a"/>
<circle cx="122.39" cy="220.21" r="1.85" fill="#a3123a"/>
<circle cx="103.60" cy="214.63" r="1.85" fill="#a3123a"/>
<circle cx="133.24" cy="222.66" r="1.85" fill="#a3123a"/>
<circle cx="117.20" cy="219.81" r="1.85" fill="#a3123a"/>
<circle cx="108.29" cy="218.46" r="1.85" fill="#a3123a"/>
<circle cx="103.89" cy="212.75" r="1.85" fill="#a3123a"/>
<circle cx="131.09" cy="226.06" r="1.85" fill="#a3123a"/>
<circle cx="101.06" cy="216.61" r="1.85" fill="#a3123a"/>
<circle cx="128.13" cy="225.91" r="1.85" fill="#a3123a"/>
<circle cx="103.53" cy="218.43" r="1.85" fill="#a3123a"/>
<circle cx="118.26" cy="218.82" r="1.85" fill="#a3123a"/>
<circle cx="117.30" cy="216.60" r="1.85" fill="#a3123a"/>
<circle cx="118.43" cy="216.61" r="1.85" fill="#a3123a"/>
<circle cx="103.60" cy="217.60" r="1.85" fill="#a3123a"/>
<circle cx="118.03" cy="220.74" r="1.85" fill="#a3123a"/>
<circle cx="135.68" cy="231.32" r="1.85" fill="#a3123a"/>
<circle cx="102.53" cy="218.64" r="1.85" fill="#a3123a"/>
<circle cx="121.71" cy="224.95" r="1.85" fill="#a3123a"/>
<circle cx="100.73" cy="213.20" r="1.85" fill="#a3123a"/>
<circle cx="116.08" cy="212.74" r="1.85" fill="#a3123a"/>
<circle cx="113.20" cy="212.39" r="1.85" fill="#a3123a"/>
<circle cx="110.01" cy="214.90" r="1.85" fill="#a3123a"/>
<circle cx="111.49" cy="219.91" r="1.85" fill="#a3123a"/>
<circle cx="117.83" cy="224.07" r="1.85" fill="#a3123a"/>
<circle cx="109.73" cy="217.21" r="1.85" fill="#a3123a"/>
<circle cx="111.87" cy="218.95" r="1.85" fill="#a3123a"/>
<circle cx="137.35" cy="223.72" r="1.85" fill="#a3123a"/>
<circle cx="135.57" cy="224.04" r="1.85" fill="#a3123a"/>
<circle cx="113.61" cy="218.93" r="1.85" fill="#a3123a"/>
<circle cx="105.56" cy="217.41" r="1.85" fill="#a3123a"/>
<circle cx="107.56" cy="217.95" r="1.85" fill="#a3123a"/>
<circle cx="110.05" cy="223.96" r="1.85" fill="#a3123a"/>
<circle cx="109.45" cy="212.42" r="1.85" fill="#a3123a"/>
<circle cx="111.07" cy="214.14" r="1.85" fill="#a3123a"/>
<circle cx="128.94" cy="220.76" r="1.85" fill="#a3123a"/>
<circle cx="122.64" cy="224.38" r="1.85" fill="#a3123a"/>
<circle cx="135.81" cy="225.53" r="1.85" fill="#a3123a"/>
<circle cx="131.97" cy="220.69" r="1.85" fill="#a3123a"/>
<circle cx="113.93" cy="213.35" r="1.85" fill="#a3123a"/>
<circle cx="120.75" cy="226.07" r="1.85" fill="#a3123a"/>
<circle cx="129.39" cy="220.88" r="1.85" fill="#a3123a"/>
<circle cx="123.28" cy="227.87" r="1.85" fill="#a3123a"/>
<circle cx="109.40" cy="220.81" r="1.85" fill="#a3123a"/>
<circle cx="112.90" cy="217.37" r="1.85" fill="#a3123a"/>
<circle cx="109.98" cy="219.49" r="1.85" fill="#a3123a"/>
<circle cx="126.31" cy="223.83" r="1.85" fill="#a3123a"/>
<circle cx="105.34" cy="216.37" r="1.85" fill="#a3123a"/>
<circle cx="120.70" cy="224.25" r="1.85" fill="#a3123a"/>
<circle cx="114.46" cy="219.69" r="1.85" fill="#a3123a"/>
<circle cx="114.01" cy="216.80" r="1.85" fill="#a3123a"/>
<circle cx="116.15" cy="221.14" r="1.85" fill="#a3123a"/>
<circle cx="105.57" cy="218.15" r="1.85" fill="#a3123a"/>
<line x1="33.70" y1="200.90" x2="148.30" y2="225.20" stroke="#8c1232" stroke-width="1.5"/>
<text x="186.30" y="164.50" font-size="12" text-anchor="start" fill="#000" font-weight="bold">E</text>
<line x1="210.00" y1="173.50" x2="210.00" y2="267.00" stroke="#000" stroke-width="1.2"/>
<line x1="210.00" y1="235.50" x2="351.50" y2="235.50" stroke="#000" stroke-width="1.2"/>
<line x1="207.00" y1="174.50" x2="210.00" y2="174.50" stroke="#000" stroke-width="1.2"/>
<text x="204.70" y="177.20" font-size="8.3" text-anchor="end" fill="#111">4</text>
<line x1="207.00" y1="189.75" x2="210.00" y2="189.75" stroke="#000" stroke-width="1.2"/>
<text x="204.70" y="192.45" font-size="8.3" text-anchor="end" fill="#111">3</text>
<line x1="207.00" y1="205.00" x2="210.00" y2="205.00" stroke="#000" stroke-width="1.2"/>
<text x="204.70" y="207.70" font-size="8.3" text-anchor="end" fill="#111">2</text>
<line x1="207.00" y1="220.25" x2="210.00" y2="220.25" stroke="#000" stroke-width="1.2"/>
<text x="204.70" y="222.95" font-size="8.3" text-anchor="end" fill="#111">1</text>
<line x1="207.00" y1="235.50" x2="210.00" y2="235.50" stroke="#000" stroke-width="1.2"/>
<text x="204.70" y="238.20" font-size="8.3" text-anchor="end" fill="#111">0</text>
<line x1="207.00" y1="250.75" x2="210.00" y2="250.75" stroke="#000" stroke-width="1.2"/>
<text x="204.70" y="253.45" font-size="8.3" text-anchor="end" fill="#111">-1</text>
<line x1="207.00" y1="266.00" x2="210.00" y2="266.00" stroke="#000" stroke-width="1.2"/>
<text x="204.70" y="268.70" font-size="8.3" text-anchor="end" fill="#111">-2</text>
<line x1="256.00" y1="235.50" x2="256.00" y2="238.50" stroke="#000" stroke-width="1.2"/>
<text x="256.00" y="248.50" font-size="8.3" text-anchor="middle" fill="#111">500</text>
<line x1="302.20" y1="235.50" x2="302.20" y2="238.50" stroke="#000" stroke-width="1.2"/>
<text x="302.20" y="248.50" font-size="8.3" text-anchor="middle" fill="#111">1000</text>
<line x1="348.40" y1="235.50" x2="348.40" y2="238.50" stroke="#000" stroke-width="1.2"/>
<text x="348.40" y="248.50" font-size="8.3" text-anchor="middle" fill="#111">1500</text>
<text x="280.60" y="261.20" font-size="10.3" text-anchor="middle" fill="#111" textLength="83" lengthAdjust="spacingAndGlyphs">dsDNA ng/mL (NETs)</text>
<text x="191.60" y="220.00" font-size="9" text-anchor="middle" fill="#111" textLength="60.5" lengthAdjust="spacingAndGlyphs" transform="rotate(-90 191.60 220.00)">Log(IL-8pg/mL)</text>
<text x="258.2" y="202.2" font-size="7.6" fill="#111" textLength="64.5" lengthAdjust="spacingAndGlyphs">R<tspan dy="-2.9" font-size="5.2">2</tspan><tspan dy="2.9">=0.0072; p=0.40</tspan></text>
<path d="M212.60 188.80L215.00 193.00L210.20 193.00Z" fill="#a3123a"/>
<path d="M226.00 188.80L228.40 193.00L223.60 193.00Z" fill="#a3123a"/>
<path d="M244.60 194.70L247.00 198.90L242.20 198.90Z" fill="#a3123a"/>
<path d="M229.60 196.70L232.00 200.90L227.20 200.90Z" fill="#a3123a"/>
<path d="M232.20 197.30L234.60 201.50L229.80 201.50Z" fill="#a3123a"/>
<path d="M237.40 201.90L239.80 206.10L235.00 206.10Z" fill="#a3123a"/>
<path d="M239.40 203.90L241.80 208.10L237.00 208.10Z" fill="#a3123a"/>
<path d="M249.20 202.60L251.60 206.80L246.80 206.80Z" fill="#a3123a"/>
<path d="M217.80 205.20L220.20 209.40L215.40 209.40Z" fill="#a3123a"/>
<path d="M223.70 201.90L226.10 206.10L221.30 206.10Z" fill="#a3123a"/>
<path d="M227.60 204.50L230.00 208.70L225.20 208.70Z" fill="#a3123a"/>
<path d="M232.80 207.80L235.20 212.00L230.40 212.00Z" fill="#a3123a"/>
<path d="M233.50 211.10L235.90 215.30L231.10 215.30Z" fill="#a3123a"/>
<path d="M244.60 207.80L247.00 212.00L242.20 212.00Z" fill="#a3123a"/>
<path d="M238.70 211.70L241.10 215.90L236.30 215.90Z" fill="#a3123a"/>
<path d="M243.30 212.40L245.70 216.60L240.90 216.60Z" fill="#a3123a"/>
<path d="M251.80 213.00L254.20 217.20L249.40 217.20Z" fill="#a3123a"/>
<path d="M257.00 211.70L259.40 215.90L254.60 215.90Z" fill="#a3123a"/>
<path d="M260.30 220.90L262.70 225.10L257.90 225.10Z" fill="#a3123a"/>
<path d="M256.40 225.40L258.80 229.60L254.00 229.60Z" fill="#a3123a"/>
<path d="M240.70 221.50L243.10 225.70L238.30 225.70Z" fill="#a3123a"/>
<path d="M245.90 218.20L248.30 222.40L243.50 222.40Z" fill="#a3123a"/>
<path d="M247.20 219.60L249.60 223.80L244.80 223.80Z" fill="#a3123a"/>
<path d="M236.10 230.00L238.50 234.20L233.70 234.20Z" fill="#a3123a"/>
<path d="M244.60 232.60L247.00 236.80L242.20 236.80Z" fill="#a3123a"/>
<path d="M224.30 232.00L226.70 236.20L221.90 236.20Z" fill="#a3123a"/>
<path d="M225.00 234.60L227.40 238.80L222.60 238.80Z" fill="#a3123a"/>
<path d="M224.10 248.30L226.50 252.50L221.70 252.50Z" fill="#a3123a"/>
<path d="M224.90 249.80L227.30 254.00L222.50 254.00Z" fill="#a3123a"/>
<path d="M291.60 214.60L294.00 218.80L289.20 218.80Z" fill="#a3123a"/>
<path d="M311.90 213.60L314.30 217.80L309.50 217.80Z" fill="#a3123a"/>
<path d="M270.90 219.40L273.30 223.60L268.50 223.60Z" fill="#a3123a"/>
<path d="M267.00 228.80L269.40 233.00L264.60 233.00Z" fill="#a3123a"/>
<path d="M237.36 203.87L239.76 208.07L234.96 208.07Z" fill="#a3123a"/>
<path d="M233.12 207.23L235.52 211.43L230.72 211.43Z" fill="#a3123a"/>
<path d="M237.75 203.99L240.15 208.19L235.35 208.19Z" fill="#a3123a"/>
<path d="M235.77 219.27L238.17 223.47L233.37 223.47Z" fill="#a3123a"/>
<path d="M235.36 226.60L237.76 230.80L232.96 230.80Z" fill="#a3123a"/>
<path d="M223.93 211.38L226.33 215.58L221.53 215.58Z" fill="#a3123a"/>
<path d="M232.60 210.05L235.00 214.25L230.20 214.25Z" fill="#a3123a"/>
<path d="M224.37 208.86L226.77 213.06L221.97 213.06Z" fill="#a3123a"/>
<path d="M235.37 223.71L237.77 227.91L232.97 227.91Z" fill="#a3123a"/>
<path d="M234.26 208.74L236.66 212.94L231.86 212.94Z" fill="#a3123a"/>
<path d="M236.61 215.36L239.01 219.56L234.21 219.56Z" fill="#a3123a"/>
<path d="M223.78 214.08L226.18 218.28L221.38 218.28Z" fill="#a3123a"/>
<path d="M227.27 205.42L229.67 209.62L224.87 209.62Z" fill="#a3123a"/>
<path d="M229.95 211.88L232.35 216.08L227.55 216.08Z" fill="#a3123a"/>
<path d="M230.04 224.99L232.44 229.19L227.64 229.19Z" fill="#a3123a"/>
<path d="M231.44 212.92L233.84 217.12L229.04 217.12Z" fill="#a3123a"/>
<path d="M235.48 226.49L237.88 230.69L233.08 230.69Z" fill="#a3123a"/>
<path d="M228.57 225.34L230.97 229.54L226.17 229.54Z" fill="#a3123a"/>
<path d="M219.85 206.83L222.25 211.03L217.45 211.03Z" fill="#a3123a"/>
<path d="M222.69 225.18L225.09 229.38L220.29 229.38Z" fill="#a3123a"/>
<path d="M232.27 220.14L234.67 224.34L229.87 224.34Z" fill="#a3123a"/>
<path d="M224.80 214.98L227.20 219.18L222.40 219.18Z" fill="#a3123a"/>
<path d="M235.91 205.90L238.31 210.10L233.51 210.10Z" fill="#a3123a"/>
<path d="M221.65 204.69L224.05 208.89L219.25 208.89Z" fill="#a3123a"/>
<path d="M228.17 222.93L230.57 227.13L225.77 227.13Z" fill="#a3123a"/>
<path d="M229.77 212.83L232.17 217.03L227.37 217.03Z" fill="#a3123a"/>
<path d="M228.79 207.72L231.19 211.92L226.39 211.92Z" fill="#a3123a"/>
<path d="M237.04 211.74L239.44 215.94L234.64 215.94Z" fill="#a3123a"/>
<path d="M223.85 210.76L226.25 214.96L221.45 214.96Z" fill="#a3123a"/>
<path d="M234.76 210.92L237.16 215.12L232.36 215.12Z" fill="#a3123a"/>
<path d="M236.24 211.33L238.64 215.53L233.84 215.53Z" fill="#a3123a"/>
<path d="M227.67 205.31L230.07 209.51L225.27 209.51Z" fill="#a3123a"/>
<path d="M236.29 221.91L238.69 226.11L233.89 226.11Z" fill="#a3123a"/>
<path d="M228.28 206.25L230.68 210.45L225.88 210.45Z" fill="#a3123a"/>
<path d="M228.61 212.25L231.01 216.45L226.21 216.45Z" fill="#a3123a"/>
<path d="M235.04 224.94L237.44 229.14L232.64 229.14Z" fill="#a3123a"/>
<path d="M233.21 210.21L235.61 214.41L230.81 214.41Z" fill="#a3123a"/>
<path d="M220.27 224.16L222.67 228.36L217.87 228.36Z" fill="#a3123a"/>
<path d="M236.97 207.24L239.37 211.44L234.57 211.44Z" fill="#a3123a"/>
<path d="M228.75 214.66L231.15 218.86L226.35 218.86Z" fill="#a3123a"/>
<path d="M237.56 204.59L239.96 208.79L235.16 208.79Z" fill="#a3123a"/>
<path d="M220.64 223.01L223.04 227.21L218.24 227.21Z" fill="#a3123a"/>
<path d="M230.04 214.23L232.44 218.43L227.64 218.43Z" fill="#a3123a"/>
<path d="M233.89 217.25L236.29 221.45L231.49 221.45Z" fill="#a3123a"/>
<path d="M232.31 209.48L234.71 213.68L229.91 213.68Z" fill="#a3123a"/>
<path d="M221.35 208.72L223.75 212.92L218.95 212.92Z" fill="#a3123a"/>
<path d="M223.83 217.68L226.23 221.88L221.43 221.88Z" fill="#a3123a"/>
<path d="M224.30 213.46L226.70 217.66L221.90 217.66Z" fill="#a3123a"/>
<path d="M226.69 218.47L229.09 222.67L224.29 222.67Z" fill="#a3123a"/>
<path d="M226.45 212.96L228.85 217.16L224.05 217.16Z" fill="#a3123a"/>
<path d="M228.72 219.81L231.12 224.01L226.32 224.01Z" fill="#a3123a"/>
<path d="M229.43 221.10L231.83 225.30L227.03 225.30Z" fill="#a3123a"/>
<path d="M220.65 217.97L223.05 222.17L218.25 222.17Z" fill="#a3123a"/>
<path d="M223.98 214.04L226.38 218.24L221.58 218.24Z" fill="#a3123a"/>
<path d="M225.68 210.61L228.08 214.81L223.28 214.81Z" fill="#a3123a"/>
<path d="M222.99 222.41L225.39 226.61L220.59 226.61Z" fill="#a3123a"/>
<path d="M223.81 221.38L226.21 225.58L221.41 225.58Z" fill="#a3123a"/>
<path d="M227.34 213.01L229.74 217.21L224.94 217.21Z" fill="#a3123a"/>
<path d="M223.69 217.07L226.09 221.27L221.29 221.27Z" fill="#a3123a"/>
<path d="M227.52 213.36L229.92 217.56L225.12 217.56Z" fill="#a3123a"/>
<path d="M221.09 211.01L223.49 215.21L218.69 215.21Z" fill="#a3123a"/>
<path d="M229.11 218.80L231.51 223.00L226.71 223.00Z" fill="#a3123a"/>
<path d="M221.58 220.29L223.98 224.49L219.18 224.49Z" fill="#a3123a"/>
<path d="M226.26 213.29L228.66 217.49L223.86 217.49Z" fill="#a3123a"/>
<path d="M229.44 210.40L231.84 214.60L227.04 214.60Z" fill="#a3123a"/>
<path d="M221.48 213.41L223.88 217.61L219.08 217.61Z" fill="#a3123a"/>
<path d="M227.88 216.27L230.28 220.47L225.48 220.47Z" fill="#a3123a"/>
<path d="M225.34 221.29L227.74 225.49L222.94 225.49Z" fill="#a3123a"/>
<path d="M224.44 219.63L226.84 223.83L222.04 223.83Z" fill="#a3123a"/>
<path d="M220.55 219.56L222.95 223.76L218.15 223.76Z" fill="#a3123a"/>
<path d="M222.05 217.78L224.45 221.98L219.65 221.98Z" fill="#a3123a"/>
<path d="M228.88 217.78L231.28 221.98L226.48 221.98Z" fill="#a3123a"/>
<path d="M226.29 216.30L228.69 220.50L223.89 220.50Z" fill="#a3123a"/>
<path d="M228.01 213.76L230.41 217.96L225.61 217.96Z" fill="#a3123a"/>
<path d="M222.84 216.40L225.24 220.60L220.44 220.60Z" fill="#a3123a"/>
<line x1="212.60" y1="215.60" x2="311.90" y2="221.50" stroke="#8c1232" stroke-width="1.4"/>
<text x="9.20" y="298.10" font-size="12" text-anchor="start" fill="#000" font-weight="bold">F</text>
<line x1="32.80" y1="307.90" x2="32.80" y2="378.40" stroke="#000" stroke-width="1.2"/>
<line x1="32.20" y1="377.80" x2="138.80" y2="377.80" stroke="#000" stroke-width="1.2"/>
<line x1="29.80" y1="308.30" x2="32.80" y2="308.30" stroke="#000" stroke-width="1.2"/>
<text x="27.50" y="311.00" font-size="8.3" text-anchor="end" fill="#111">4</text>
<line x1="29.80" y1="319.90" x2="32.80" y2="319.90" stroke="#000" stroke-width="1.2"/>
<text x="27.50" y="322.60" font-size="8.3" text-anchor="end" fill="#111">3</text>
<line x1="29.80" y1="331.50" x2="32.80" y2="331.50" stroke="#000" stroke-width="1.2"/>
<text x="27.50" y="334.20" font-size="8.3" text-anchor="end" fill="#111">2</text>
<line x1="29.80" y1="343.10" x2="32.80" y2="343.10" stroke="#000" stroke-width="1.2"/>
<text x="27.50" y="345.80" font-size="8.3" text-anchor="end" fill="#111">1</text>
<line x1="29.80" y1="354.70" x2="32.80" y2="354.70" stroke="#000" stroke-width="1.2"/>
<text x="27.50" y="357.40" font-size="8.3" text-anchor="end" fill="#111">0</text>
<line x1="29.80" y1="366.30" x2="32.80" y2="366.30" stroke="#000" stroke-width="1.2"/>
<text x="27.50" y="369.00" font-size="8.3" text-anchor="end" fill="#111">-1</text>
<line x1="29.80" y1="377.90" x2="32.80" y2="377.90" stroke="#000" stroke-width="1.2"/>
<text x="27.50" y="380.60" font-size="8.3" text-anchor="end" fill="#111">-2</text>
<line x1="63.20" y1="377.80" x2="63.20" y2="380.80" stroke="#000" stroke-width="1.2"/>
<text x="63.20" y="391.60" font-size="9.4" text-anchor="middle" fill="#111" textLength="14.8" lengthAdjust="spacingAndGlyphs">Yes</text>
<line x1="108.50" y1="377.80" x2="108.50" y2="380.80" stroke="#000" stroke-width="1.2"/>
<text x="108.50" y="391.60" font-size="9.4" text-anchor="middle" fill="#111" textLength="11.2" lengthAdjust="spacingAndGlyphs">No</text>
<text x="85.70" y="404.60" font-size="10.6" text-anchor="middle" fill="#111" textLength="36.5" lengthAdjust="spacingAndGlyphs">Engrafted</text>
<text x="14.60" y="341.50" font-size="9" text-anchor="middle" fill="#111" textLength="64" lengthAdjust="spacingAndGlyphs" transform="rotate(-90 14.60 341.50)">Log(IL-8 pg/mL)</text>
<line x1="62.50" y1="312.60" x2="108.70" y2="312.60" stroke="#000" stroke-width="1.3"/>
<line x1="62.50" y1="310.30" x2="62.50" y2="315.60" stroke="#000" stroke-width="1.3"/>
<line x1="108.70" y1="310.30" x2="108.70" y2="315.60" stroke="#000" stroke-width="1.3"/>
<text x="85.00" y="308.70" font-size="7.8" text-anchor="middle" fill="#111" textLength="33" lengthAdjust="spacingAndGlyphs">p&lt;0.0001</text>
<circle cx="63.40" cy="328.70" r="1.35" fill="#2a3f72"/>
<circle cx="56.70" cy="332.40" r="1.35" fill="#2a3f72"/>
<circle cx="69.40" cy="331.10" r="1.35" fill="#2a3f72"/>
<circle cx="60.90" cy="334.10" r="1.35" fill="#2a3f72"/>
<circle cx="65.50" cy="333.90" r="1.35" fill="#2a3f72"/>
<circle cx="50.10" cy="335.30" r="1.35" fill="#2a3f72"/>
<circle cx="56.70" cy="353.70" r="1.35" fill="#2a3f72"/>
<circle cx="61.60" cy="354.70" r="1.35" fill="#2a3f72"/>
<circle cx="69.40" cy="354.40" r="1.35" fill="#2a3f72"/>
<circle cx="65.20" cy="357.10" r="1.35" fill="#2a3f72"/>
<circle cx="65.20" cy="365.00" r="1.35" fill="#2a3f72"/>
<circle cx="61.00" cy="368.00" r="1.35" fill="#2a3f72"/>
<circle cx="50.50" cy="338.00" r="1.35" fill="#2a3f72"/>
<circle cx="49.50" cy="340.20" r="1.35" fill="#2a3f72"/>
<circle cx="54.00" cy="338.00" r="1.35" fill="#2a3f72"/>
<circle cx="53.00" cy="340.20" r="1.35" fill="#2a3f72"/>
<circle cx="57.50" cy="338.00" r="1.35" fill="#2a3f72"/>
<circle cx="56.50" cy="340.20" r="1.35" fill="#2a3f72"/>
<circle cx="61.00" cy="338.00" r="1.35" fill="#2a3f72"/>
<circle cx="60.00" cy="340.20" r="1.35" fill="#2a3f72"/>
<circle cx="64.50" cy="338.00" r="1.35" fill="#2a3f72"/>
<circle cx="63.50" cy="340.20" r="1.35" fill="#2a3f72"/>
<circle cx="68.00" cy="338.00" r="1.35" fill="#2a3f72"/>
<circle cx="67.00" cy="340.20" r="1.35" fill="#2a3f72"/>
<circle cx="71.50" cy="338.00" r="1.35" fill="#2a3f72"/>
<circle cx="70.50" cy="340.20" r="1.35" fill="#2a3f72"/>
<circle cx="75.00" cy="338.00" r="1.35" fill="#2a3f72"/>
<circle cx="74.00" cy="340.20" r="1.35" fill="#2a3f72"/>
<circle cx="77.50" cy="338.00" r="1.35" fill="#2a3f72"/>
<circle cx="76.50" cy="340.20" r="1.35" fill="#2a3f72"/>
<circle cx="51.00" cy="346.00" r="1.35" fill="#2a3f72"/>
<circle cx="55.00" cy="346.00" r="1.35" fill="#2a3f72"/>
<circle cx="59.00" cy="346.00" r="1.35" fill="#2a3f72"/>
<circle cx="63.00" cy="346.00" r="1.35" fill="#2a3f72"/>
<circle cx="67.00" cy="346.00" r="1.35" fill="#2a3f72"/>
<circle cx="71.00" cy="346.00" r="1.35" fill="#2a3f72"/>
<circle cx="75.00" cy="346.00" r="1.35" fill="#2a3f72"/>
<circle cx="50.00" cy="348.80" r="1.35" fill="#2a3f72"/>
<circle cx="54.50" cy="348.80" r="1.35" fill="#2a3f72"/>
<circle cx="59.00" cy="348.80" r="1.35" fill="#2a3f72"/>
<circle cx="63.50" cy="348.80" r="1.35" fill="#2a3f72"/>
<circle cx="68.00" cy="348.80" r="1.35" fill="#2a3f72"/>
<circle cx="72.50" cy="348.80" r="1.35" fill="#2a3f72"/>
<circle cx="76.00" cy="348.80" r="1.35" fill="#2a3f72"/>
<circle cx="55.00" cy="351.20" r="1.35" fill="#2a3f72"/>
<circle cx="59.00" cy="351.20" r="1.35" fill="#2a3f72"/>
<circle cx="63.00" cy="351.20" r="1.35" fill="#2a3f72"/>
<circle cx="67.00" cy="351.20" r="1.35" fill="#2a3f72"/>
<circle cx="71.00" cy="351.20" r="1.35" fill="#2a3f72"/>
<line x1="48.20" y1="343.80" x2="77.90" y2="343.80" stroke="#0a0a18" stroke-width="2.0"/>
<line x1="63.40" y1="338.50" x2="63.40" y2="349.00" stroke="#0a0a18" stroke-width="1.0"/>
<line x1="57.50" y1="338.50" x2="69.50" y2="338.50" stroke="#0a0a18" stroke-width="1.2"/>
<line x1="57.50" y1="349.00" x2="69.50" y2="349.00" stroke="#0a0a18" stroke-width="1.2"/>
<rect x="104.90" y="319.90" width="2.60" height="2.60" fill="#2a3f72"/>
<rect x="109.30" y="319.90" width="2.60" height="2.60" fill="#2a3f72"/>
<rect x="102.60" y="323.60" width="2.60" height="2.60" fill="#2a3f72"/>
<rect x="106.50" y="342.80" width="2.60" height="2.60" fill="#2a3f72"/>
<rect x="106.50" y="353.90" width="2.60" height="2.60" fill="#2a3f72"/>
<rect x="94.70" y="329.70" width="2.60" height="2.60" fill="#2a3f72"/>
<rect x="98.70" y="329.70" width="2.60" height="2.60" fill="#2a3f72"/>
<rect x="102.70" y="329.70" width="2.60" height="2.60" fill="#2a3f72"/>
<rect x="110.70" y="329.70" width="2.60" height="2.60" fill="#2a3f72"/>
<rect x="114.70" y="329.70" width="2.60" height="2.60" fill="#2a3f72"/>
<rect x="118.70" y="329.70" width="2.60" height="2.60" fill="#2a3f72"/>
<rect x="93.20" y="334.00" width="2.60" height="2.60" fill="#2a3f72"/>
<rect x="97.20" y="334.00" width="2.60" height="2.60" fill="#2a3f72"/>
<rect x="101.20" y="334.00" width="2.60" height="2.60" fill="#2a3f72"/>
<rect x="105.20" y="334.00" width="2.60" height="2.60" fill="#2a3f72"/>
<rect x="109.20" y="334.00" width="2.60" height="2.60" fill="#2a3f72"/>
<rect x="113.20" y="334.00" width="2.60" height="2.60" fill="#2a3f72"/>
<rect x="117.20" y="334.00" width="2.60" height="2.60" fill="#2a3f72"/>
<rect x="121.20" y="334.00" width="2.60" height="2.60" fill="#2a3f72"/>
<rect x="97.20" y="336.30" width="2.60" height="2.60" fill="#2a3f72"/>
<rect x="101.20" y="336.30" width="2.60" height="2.60" fill="#2a3f72"/>
<rect x="105.20" y="336.30" width="2.60" height="2.60" fill="#2a3f72"/>
<rect x="109.20" y="336.30" width="2.60" height="2.60" fill="#2a3f72"/>
<rect x="113.20" y="336.30" width="2.60" height="2.60" fill="#2a3f72"/>
<rect x="97.70" y="340.00" width="2.60" height="2.60" fill="#2a3f72"/>
<rect x="101.70" y="340.00" width="2.60" height="2.60" fill="#2a3f72"/>
<rect x="105.70" y="340.00" width="2.60" height="2.60" fill="#2a3f72"/>
<rect x="109.70" y="340.00" width="2.60" height="2.60" fill="#2a3f72"/>
<rect x="113.70" y="340.00" width="2.60" height="2.60" fill="#2a3f72"/>
<rect x="116.70" y="340.00" width="2.60" height="2.60" fill="#2a3f72"/>
<line x1="93.90" y1="333.20" x2="123.40" y2="333.20" stroke="#0a0a18" stroke-width="2.0"/>
<line x1="108.40" y1="328.00" x2="108.40" y2="342.40" stroke="#0a0a18" stroke-width="1.0"/>
<line x1="101.10" y1="328.00" x2="115.60" y2="328.00" stroke="#0a0a18" stroke-width="1.2"/>
<line x1="101.70" y1="339.00" x2="115.00" y2="339.00" stroke="#0a0a18" stroke-width="1.2"/>
<text x="185.00" y="294.50" font-size="12" text-anchor="start" fill="#000" font-weight="bold">G</text>
<line x1="220.00" y1="302.50" x2="220.00" y2="379.00" stroke="#000" stroke-width="1.2"/>
<line x1="219.40" y1="378.40" x2="333.00" y2="378.40" stroke="#000" stroke-width="1.2"/>
<line x1="217.00" y1="378.40" x2="220.00" y2="378.40" stroke="#000" stroke-width="1.2"/>
<text x="214.70" y="381.10" font-size="8.3" text-anchor="end" fill="#111">0</text>
<line x1="217.00" y1="353.30" x2="220.00" y2="353.30" stroke="#000" stroke-width="1.2"/>
<text x="214.70" y="356.00" font-size="8.3" text-anchor="end" fill="#111">500</text>
<line x1="217.00" y1="328.20" x2="220.00" y2="328.20" stroke="#000" stroke-width="1.2"/>
<text x="214.70" y="330.90" font-size="8.3" text-anchor="end" fill="#111">1000</text>
<line x1="217.00" y1="303.10" x2="220.00" y2="303.10" stroke="#000" stroke-width="1.2"/>
<text x="214.70" y="305.80" font-size="8.3" text-anchor="end" fill="#111">1500</text>
<line x1="253.00" y1="378.40" x2="253.00" y2="381.40" stroke="#000" stroke-width="1.2"/>
<text x="253.00" y="391.40" font-size="9.4" text-anchor="middle" fill="#111" textLength="14.8" lengthAdjust="spacingAndGlyphs">Yes</text>
<line x1="301.00" y1="378.40" x2="301.00" y2="381.40" stroke="#000" stroke-width="1.2"/>
<text x="301.00" y="391.40" font-size="9.4" text-anchor="middle" fill="#111" textLength="11.2" lengthAdjust="spacingAndGlyphs">No</text>
<text x="277.00" y="404.80" font-size="10.6" text-anchor="middle" fill="#111" textLength="37" lengthAdjust="spacingAndGlyphs">Engrafted</text>
<text x="191.60" y="339.10" font-size="9.2" text-anchor="middle" fill="#111" textLength="82" lengthAdjust="spacingAndGlyphs" transform="rotate(-90 191.60 339.10)">dsDNA ng/mL (NETs)</text>
<line x1="252.50" y1="318.10" x2="301.50" y2="318.10" stroke="#000" stroke-width="1.3"/>
<line x1="252.50" y1="315.50" x2="252.50" y2="320.80" stroke="#000" stroke-width="1.3"/>
<line x1="301.50" y1="315.50" x2="301.50" y2="320.80" stroke="#000" stroke-width="1.3"/>
<text x="277.00" y="312.80" font-size="7.8" text-anchor="middle" fill="#111" textLength="31.5" lengthAdjust="spacingAndGlyphs">p=0.0012</text>
<circle cx="252.70" cy="323.70" r="1.45" fill="#2a3f72"/>
<circle cx="252.70" cy="334.50" r="1.45" fill="#2a3f72"/>
<circle cx="250.00" cy="345.80" r="1.45" fill="#2a3f72"/>
<circle cx="254.80" cy="347.70" r="1.45" fill="#2a3f72"/>
<circle cx="247.80" cy="351.00" r="1.45" fill="#2a3f72"/>
<circle cx="253.00" cy="353.30" r="1.45" fill="#2a3f72"/>
<circle cx="259.30" cy="353.30" r="1.45" fill="#2a3f72"/>
<circle cx="248.00" cy="357.50" r="1.45" fill="#2a3f72"/>
<circle cx="252.00" cy="357.50" r="1.45" fill="#2a3f72"/>
<circle cx="257.00" cy="356.80" r="1.45" fill="#2a3f72"/>
<circle cx="238.80" cy="361.00" r="1.45" fill="#2a3f72"/>
<circle cx="242.50" cy="361.00" r="1.45" fill="#2a3f72"/>
<circle cx="246.50" cy="361.00" r="1.45" fill="#2a3f72"/>
<circle cx="250.50" cy="361.00" r="1.45" fill="#2a3f72"/>
<circle cx="255.00" cy="361.00" r="1.45" fill="#2a3f72"/>
<circle cx="259.00" cy="361.00" r="1.45" fill="#2a3f72"/>
<circle cx="263.00" cy="361.00" r="1.45" fill="#2a3f72"/>
<circle cx="266.80" cy="361.00" r="1.45" fill="#2a3f72"/>
<path d="M236.5 363 L268 363 L262 370 L256 374 L250 374 L243 370 Z" fill="#3b5592"/>
<circle cx="237.00" cy="363.50" r="1.45" fill="#2a3f72"/>
<circle cx="240.50" cy="363.50" r="1.45" fill="#2a3f72"/>
<circle cx="244.00" cy="363.50" r="1.45" fill="#2a3f72"/>
<circle cx="247.50" cy="363.50" r="1.45" fill="#2a3f72"/>
<circle cx="251.00" cy="363.50" r="1.45" fill="#2a3f72"/>
<circle cx="254.50" cy="363.50" r="1.45" fill="#2a3f72"/>
<circle cx="258.00" cy="363.50" r="1.45" fill="#2a3f72"/>
<circle cx="261.50" cy="363.50" r="1.45" fill="#2a3f72"/>
<circle cx="265.00" cy="363.50" r="1.45" fill="#2a3f72"/>
<circle cx="268.00" cy="363.50" r="1.45" fill="#2a3f72"/>
<circle cx="240.00" cy="367.20" r="1.45" fill="#2a3f72"/>
<circle cx="244.00" cy="367.20" r="1.45" fill="#2a3f72"/>
<circle cx="248.00" cy="367.20" r="1.45" fill="#2a3f72"/>
<circle cx="252.00" cy="367.20" r="1.45" fill="#2a3f72"/>
<circle cx="256.00" cy="367.20" r="1.45" fill="#2a3f72"/>
<circle cx="260.00" cy="367.20" r="1.45" fill="#2a3f72"/>
<circle cx="264.00" cy="367.20" r="1.45" fill="#2a3f72"/>
<circle cx="244.00" cy="370.50" r="1.45" fill="#2a3f72"/>
<circle cx="248.00" cy="370.50" r="1.45" fill="#2a3f72"/>
<circle cx="252.00" cy="370.50" r="1.45" fill="#2a3f72"/>
<circle cx="256.00" cy="370.50" r="1.45" fill="#2a3f72"/>
<circle cx="260.00" cy="370.50" r="1.45" fill="#2a3f72"/>
<line x1="236.50" y1="364.80" x2="268.00" y2="364.80" stroke="#0a0a18" stroke-width="2.0"/>
<line x1="252.70" y1="355.20" x2="252.70" y2="373.20" stroke="#0a0a18" stroke-width="1.0"/>
<line x1="245.50" y1="355.20" x2="260.50" y2="355.20" stroke="#0a0a18" stroke-width="1.0"/>
<line x1="245.50" y1="373.20" x2="259.80" y2="373.20" stroke="#0a0a18" stroke-width="1.0"/>
<path d="M301.00 356.20L302.50 358.82L299.50 358.82Z" fill="#2a3f72"/>
<path d="M298.70 358.50L300.20 361.12L297.20 361.12Z" fill="#2a3f72"/>
<path d="M303.30 360.80L304.80 363.43L301.80 363.43Z" fill="#2a3f72"/>
<path d="M296.30 362.40L297.80 365.02L294.80 365.02Z" fill="#2a3f72"/>
<path d="M298.30 375.50L299.80 378.12L296.80 378.12Z" fill="#2a3f72"/>
<path d="M288.00 369.30L289.50 371.93L286.50 371.93Z" fill="#2a3f72"/>
<path d="M291.50 369.30L293.00 371.93L290.00 371.93Z" fill="#2a3f72"/>
<path d="M295.00 369.30L296.50 371.93L293.50 371.93Z" fill="#2a3f72"/>
<path d="M298.50 369.30L300.00 371.93L297.00 371.93Z" fill="#2a3f72"/>
<path d="M302.00 369.30L303.50 371.93L300.50 371.93Z" fill="#2a3f72"/>
<path d="M305.50 369.30L307.00 371.93L304.00 371.93Z" fill="#2a3f72"/>
<path d="M309.00 369.30L310.50 371.93L307.50 371.93Z" fill="#2a3f72"/>
<path d="M312.50 369.30L314.00 371.93L311.00 371.93Z" fill="#2a3f72"/>
<path d="M316.00 369.30L317.50 371.93L314.50 371.93Z" fill="#2a3f72"/>
<path d="M293.00 371.00L294.50 373.62L291.50 373.62Z" fill="#2a3f72"/>
<path d="M297.00 371.00L298.50 373.62L295.50 373.62Z" fill="#2a3f72"/>
<path d="M301.00 371.00L302.50 373.62L299.50 373.62Z" fill="#2a3f72"/>
<path d="M305.00 371.00L306.50 373.62L303.50 373.62Z" fill="#2a3f72"/>
<path d="M309.00 371.00L310.50 373.62L307.50 373.62Z" fill="#2a3f72"/>
<line x1="285.10" y1="368.90" x2="316.90" y2="368.90" stroke="#0a0a18" stroke-width="2.0"/>
<line x1="301.00" y1="365.20" x2="301.00" y2="373.60" stroke="#0a0a18" stroke-width="1.0"/>
<line x1="292.50" y1="365.20" x2="308.70" y2="365.20" stroke="#0a0a18" stroke-width="1.0"/>
<line x1="292.90" y1="373.60" x2="308.40" y2="373.60" stroke="#0a0a18" stroke-width="1.0"/>
<rect x="0" y="0" width="520" height="1.2" fill="#000"/>
<rect x="0" y="0" width="1.2" height="413" fill="#000"/>
<rect x="518.4" y="0" width="1.6" height="413" fill="#000"/>
<rect x="0" y="411.3" width="520" height="1.7" fill="#000"/>
</svg>
</body></html>
